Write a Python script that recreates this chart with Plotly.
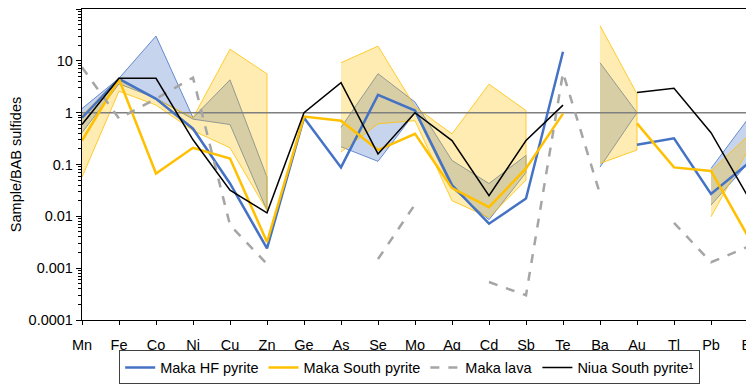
import plotly.graph_objects as go

# ---------------- data ----------------
elements = ["Mn", "Fe", "Co", "Ni", "Cu", "Zn", "Ge", "As", "Se", "Mo",
            "Ag", "Cd", "Sb", "Te", "Ba", "Au", "Tl", "Pb", "Bi"]

maka_hf_pyrite = [0.8, 4.5, 1.85, 0.49, 0.043, 0.0024, 0.8, 0.088, 2.2, 1.1,
                  0.04, 0.0072, 0.022, 15, None, 0.24, 0.32, 0.027, 0.105]
maka_south_pyrite = [0.29, 4.4, 0.067, 0.21, 0.13, 0.0032, 0.84, 0.7, 0.19, 0.39,
                     0.035, 0.015, 0.084, 0.96, None, 0.62, 0.088, 0.075, 0.0041]
maka_lava = [7.5, 0.77, 1.85, 4.75, 0.0068, 0.0012, None, None, 0.0015, 0.017,
             None, 0.00054, 0.0003, 5.9, 0.027, None, 0.0075, 0.0013, 0.0026]
niua_south_pyrite = [0.59, 4.6, 4.6, 0.3, 0.032, 0.0117, 1.0, 3.8, 0.16, 1.0,
                     0.29, 0.025, 0.29, 1.4, None, 2.45, 2.95, 0.41, 0.024]

hf_range_min = [0.41, 3.6, 1.9, 0.75, 0.59, 0.013, None, 0.22, 0.115, 1.0,
                0.035, 0.0086, 0.07, None, 0.089, 1.0, None, 0.0165, 0.105]
hf_range_max = [1.2, 4.6, 30, 0.8, 4.3, 0.057, None, 0.52, 5.65, 1.6,
                0.12, 0.043, 0.15, None, 9.2, 1.0, None, 0.084, 0.76]
south_range_min = [0.057, 2.6, 1.4, 0.45, 0.21, 0.013, None, 0.174, 0.61, 0.7,
                   0.02, 0.0095, 0.05, None, 0.105, 0.19, None, 0.0098, 0.19]
south_range_max = [0.88, 4.6, 1.85, 0.8, 16.8, 5.6, None, 9.2, 19.2, 1.3,
                   0.39, 3.55, 1.1, None, 48, 2.3, None, 0.075, 0.36]

y_tickvals = [0.0001, 0.001, 0.01, 0.1, 1, 10, 100]
y_ticktext = ["0.0001", "0.001", "0.01", "0.1", "1", "10", "100"]
reference_level = 1

# ---------------- styles ----------------
BLUE = "#4472C4"
YELLOW = "#FFC000"
GREY = "#A5A5A5"
BLACK = "#000000"
FONT = "Arial, Liberation Sans, sans-serif"
FS = 14.5


def segments(lo, hi):
    segs, cur = [], []
    for i, (a, b) in enumerate(zip(lo, hi)):
        if a is None or b is None:
            if cur:
                segs.append(cur)
                cur = []
        else:
            cur.append(i)
    if cur:
        segs.append(cur)
    return segs


fig = go.Figure()


def add_range(lo, hi, line_color, fill_color):
    for seg in segments(lo, hi):
        xs = [elements[i] for i in seg] + [elements[i] for i in reversed(seg)]
        ys = [hi[i] for i in seg] + [lo[i] for i in reversed(seg)]
        fig.add_trace(go.Scatter(
            x=xs, y=ys, mode="lines", fill="toself",
            fillcolor=fill_color,
            line=dict(color=line_color, width=0.8),
            showlegend=False, hoverinfo="skip"))


add_range(hf_range_min, hf_range_max, BLUE, "rgba(68,114,196,0.30)")
add_range(south_range_min, south_range_max, YELLOW, "rgba(255,192,0,0.30)")

# reference line at 1
fig.add_trace(go.Scatter(
    x=[elements[0], elements[-1]], y=[reference_level, reference_level],
    mode="lines", line=dict(color="#7F7F7F", width=1.5),
    showlegend=False, hoverinfo="skip"))

fig.add_trace(go.Scatter(x=elements, y=maka_hf_pyrite, mode="lines",
                         name="Maka HF pyrite",
                         line=dict(color=BLUE, width=2.5)))
fig.add_trace(go.Scatter(x=elements, y=maka_south_pyrite, mode="lines",
                         name="Maka South pyrite",
                         line=dict(color=YELLOW, width=2.5)))
fig.add_trace(go.Scatter(x=elements, y=maka_lava, mode="lines",
                         name="Maka lava",
                         line=dict(color=GREY, width=2.5, dash="dash")))
fig.add_trace(go.Scatter(x=elements, y=niua_south_pyrite, mode="lines",
                         name="Niua South pyrite¹",
                         line=dict(color=BLACK, width=1.5)))

# the page body adds an 8px offset, so the figure is sized to fit 754x387
fig.update_layout(
    width=746, height=379,
    margin=dict(l=74, r=6, t=1, b=67),
    paper_bgcolor="white", plot_bgcolor="white",
    font=dict(family=FONT, size=FS, color="black"),
    showlegend=True,
    legend=dict(orientation="h", x=0.492, xanchor="center",
                y=-0.098, yanchor="top",
                bordercolor="#404040", borderwidth=1,
                font=dict(size=FS), traceorder="normal"),
)

fig.update_xaxes(
    type="category", categoryorder="array", categoryarray=elements,
    range=[0, len(elements) - 1], automargin=False,
    showline=True, linecolor="black", linewidth=1.3, mirror=True,
    ticks="outside", ticklen=4, tickcolor="black",
    ticklabelstandoff=7,
    showgrid=False, zeroline=False,
    tickfont=dict(size=FS),
)
fig.update_yaxes(
    type="log", range=[-4, 2], automargin=False,
    tickvals=y_tickvals, ticktext=y_ticktext,
    showline=True, linecolor="black", linewidth=1.3, mirror=True,
    ticks="outside", ticklen=5, tickcolor="black",
    minor=dict(ticks="outside", ticklen=3, tickcolor="black", dtick="D1", showgrid=False),
    showgrid=False, zeroline=False,
    title=dict(text="Sample/BAB sulfides", font=dict(size=FS), standoff=10),
    tickfont=dict(size=FS),
)

fig.write_html("out.html")
